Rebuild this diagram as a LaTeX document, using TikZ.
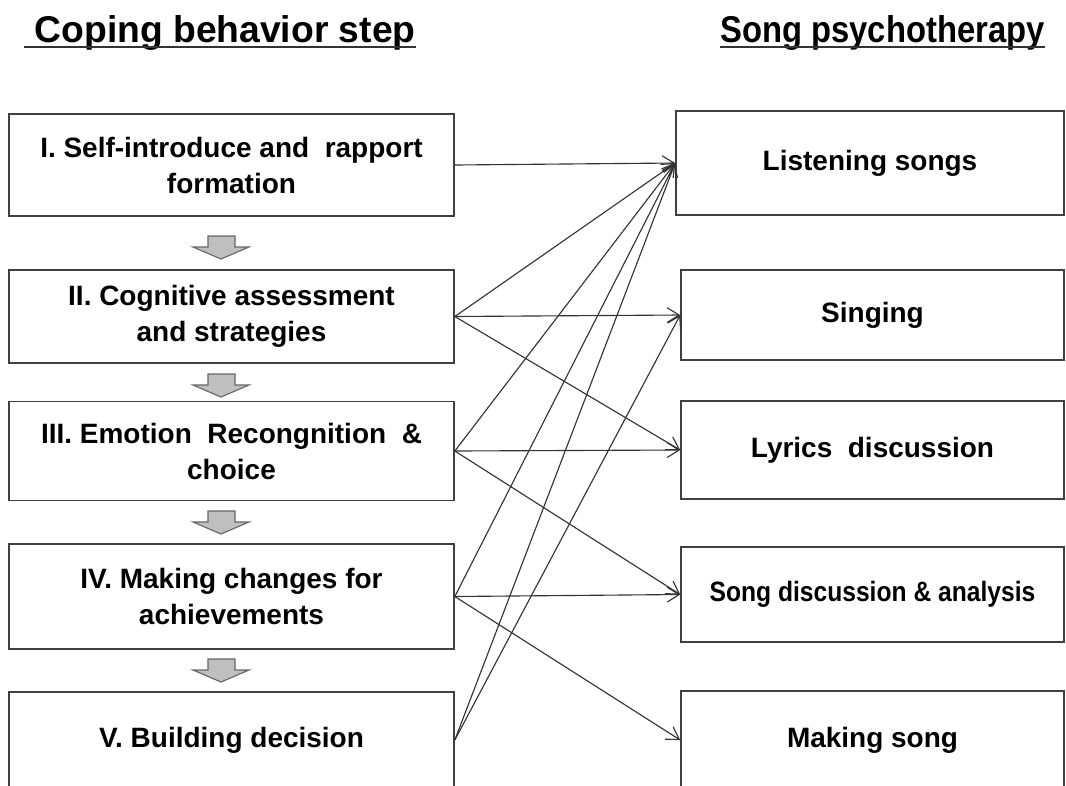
\documentclass[tikz,border=0pt]{standalone}
\usepackage{fontspec}
\setmainfont{Liberation Sans}
\newfontfamily\titlefont{Liberation Sans}[FakeStretch=1.0]
\newfontfamily\titlenarrow{Liberation Sans}[FakeStretch=0.88]
\newfontfamily\narrowfont{Liberation Sans}[FakeStretch=0.88]
\usepackage{tikz}
\usetikzlibrary{arrows.meta}

\begin{document}
\begin{tikzpicture}[
    x=0.025cm, y=-0.025cm,
    stepbox/.style={draw=black!75, line width=1.1pt, minimum width=11.125cm, align=center, font=\fontsize{19.9}{25.6}\selectfont\bfseries, fill=white},
    songbox/.style={draw=black!75, line width=1.1pt, minimum width=9.575cm, align=center, font=\fontsize{19.9}{25.6}\selectfont\bfseries, fill=white},
    title/.style={font=\fontsize{26.5}{30}\selectfont\titlefont\bfseries, anchor=base west, inner sep=0pt},
    uline/.style={line width=1.1pt, draw=black!80},
    arrow/.style={-{Straight Barb[length=8.5pt,width=10.5pt]}, line width=0.8pt, draw=black!80},
    flowarrow/.style={draw=black!60, fill=black!25, line width=0.8pt}
]
    \clip (0,0) rectangle (1066,785);
    \fill[white] (0,0) rectangle (1066,785);

    % Column titles
    \node[title] (copeTitle) at (24,42) {\ Coping behavior step};
    \node[title, font=\fontsize{26.5}{30}\selectfont\titlenarrow\bfseries] (songTitle) at (720,42) {Song psychotherapy};
    \draw[uline] ([yshift=-3.6pt]copeTitle.base west) -- ([yshift=-3.6pt]copeTitle.base east);
    \draw[uline] ([yshift=-3.6pt]songTitle.base west) -- ([yshift=-3.6pt]songTitle.base east);

    % Coping steps
    \node[stepbox, minimum height=2.55cm] (stepI) at (231.5,165) {I. Self-introduce and\ \ rapport\\formation};
    \node[stepbox, minimum height=2.325cm] (stepII) at (231.5,316.5) {II. Cognitive assessment\\and strategies};
    \node[stepbox, minimum height=2.475cm] (stepIII) at (231.5,451) {III. Emotion\ \ Recongnition\ \ \&\\choice};
    \node[stepbox, minimum height=2.625cm] (stepIV) at (231.5,596.5) {IV. Making changes for\\achievements};
    \node[stepbox, minimum height=2.4cm] (stepV) at (231.5,740) {V. Building decision};

    % Flow between steps
    \foreach \t in {236,374,511,659}
        \draw[flowarrow] (208,\t) -- (235,\t) -- (235,\t+11) -- (249,\t+11) -- (221,\t+23) -- (193,\t+11) -- (208,\t+11) -- cycle;

    % Song activities
    \node[songbox, minimum width=9.7cm, minimum height=2.6cm] (listen) at (870,163) {Listening songs};
    \node[songbox, minimum height=2.25cm] (sing) at (872.5,315) {Singing};
    \node[songbox, minimum height=2.45cm] (lyrics) at (872.5,450) {Lyrics\ \ discussion};
    \node[songbox, minimum height=2.375cm, font=\fontsize{19.9}{25.6}\selectfont\narrowfont\bfseries] (discuss) at (872.5,594.5) {Song discussion \& analysis};
    \node[songbox, minimum height=2.45cm] (making) at (872.5,740) {Making song};

    % Links
    \draw[arrow] (stepI.east) -- (listen.west);
    \draw[arrow] (stepII.east) -- (listen.west);
    \draw[arrow] (stepII.east) -- (sing.west);
    \draw[arrow] (stepII.east) -- (lyrics.west);
    \draw[arrow] (stepIII.east) -- (listen.west);
    \draw[arrow] (stepIII.east) -- (lyrics.west);
    \draw[arrow] (stepIII.east) -- (discuss.west);
    \draw[arrow] (stepIV.east) -- (listen.west);
    \draw[arrow] (stepIV.east) -- (discuss.west);
    \draw[arrow] (stepIV.east) -- (making.west);
    \draw[arrow] (stepV.east) -- (listen.west);
    \draw[arrow] (stepV.east) -- (sing.west);

\end{tikzpicture}
\end{document}
